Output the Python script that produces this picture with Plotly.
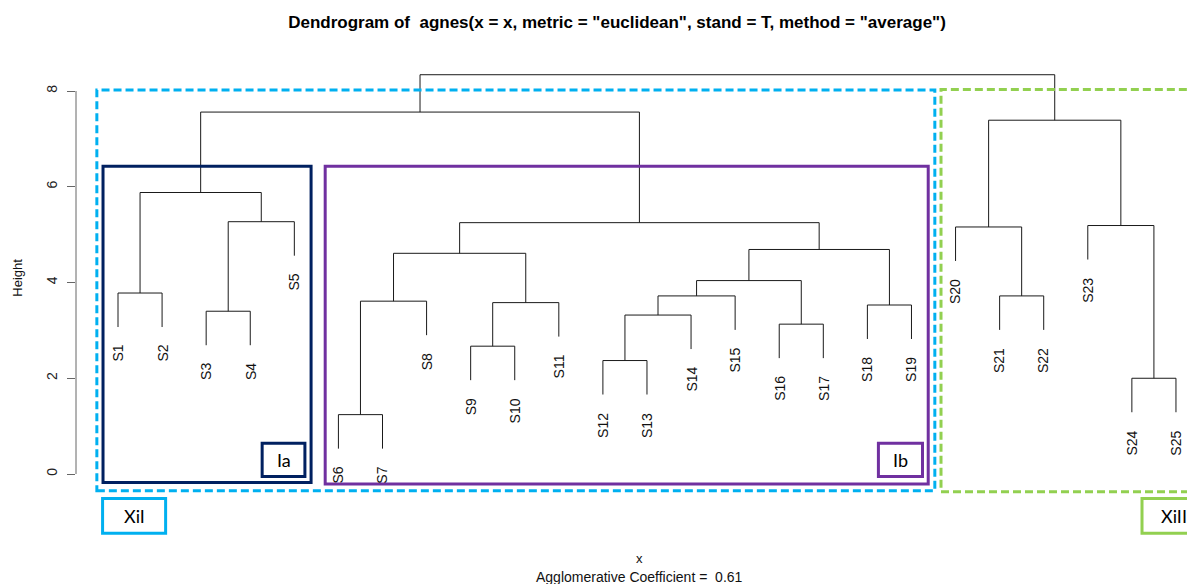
import plotly.graph_objects as go

# leaves in plotting order (left to right)
labels = ["S1", "S2", "S3", "S4", "S5", "S6", "S7", "S8", "S9", "S10",
          "S11", "S12", "S13", "S14", "S15", "S16", "S17", "S18", "S19", "S20",
          "S21", "S22", "S23", "S24", "S25"]

# agnes merge table (R convention: negative = leaf number, positive = earlier merge step)
merge_left = [-6, -24, -12, -9, -16, 3, -3, -18, 4, 1, 6, -21,
              -1, 11, 10, 14, -20, -23, 15, 7, 13, 17, 21, 23]
merge_right = [-7, -25, -13, -10, -17, -14, -4, -19, -11, -8, -15, -22,
               -2, 5, 9, 8, 12, 2, 16, -5, 20, 18, 19, 22]
heights = [1.24, 2.00, 2.37, 2.67, 3.13, 3.32, 3.40, 3.53, 3.58, 3.61, 3.72, 3.72,
           3.78, 4.04, 4.61, 4.69, 5.16, 5.19, 5.25, 5.27, 5.88, 7.39, 7.56, 8.34]

y_ticks = [0, 2, 4, 6, 8]

title_text = ('Dendrogram of  agnes(x = x, metric = "euclidean", '
              'stand = T, method = "average")')
coef_text = "Agglomerative Coefficient =  0.61"

# cluster boxes drawn over the tree: (x0, x1, y0, y1) in leaf / height units
groups = [
    dict(name="XiI", color="#00B0F0", dash="8px,4px", box=(0.52, 19.53, -0.35, 8.02),
         tag=(0.65, 2.08, -0.51, -1.24)),
    dict(name="XiII", color="#92D050", dash="8px,4px", box=(19.67, 26.2, -0.37, 8.03),
         tag=(24.23, 25.7, -0.51, -1.24)),
    dict(name="Ia", color="#002060", dash="solid", box=(0.66, 5.38, -0.18, 6.43),
         tag=(4.27, 5.24, 0.64, -0.05)),
    dict(name="Ib", color="#7030A0", dash="solid", box=(5.70, 19.38, -0.21, 6.43),
         tag=(18.25, 19.25, 0.64, -0.05)),
]

hang = 0.1 * (max(heights) - min(heights))
leaf_x = {i + 1: i + 1 for i in range(len(labels))}

# walk the merge table and build the tree segments
node_x = {}
xs, ys = [], []
leaf_bottom = {}
for k, (a, b, h) in enumerate(zip(merge_left, merge_right, heights), start=1):
    ends = []
    for c in (a, b):
        if c < 0:
            cx, cy = leaf_x[-c], h - hang
            leaf_bottom[-c] = cy
        else:
            cx, cy = node_x[c], heights[c - 1]
        ends.append((cx, cy))
    (xl, yl), (xr, yr) = ends
    xs += [xl, xl, xr, xr, None]
    ys += [yl, h, h, yr, None]
    node_x[k] = (xl + xr) / 2

fig = go.Figure()
fig.add_trace(go.Scatter(x=xs, y=ys, mode="lines", line=dict(color="#1a1a1a", width=1),
                         hoverinfo="skip", showlegend=False))

annotations = []
for i, lab in enumerate(labels, start=1):
    annotations.append(dict(x=leaf_x[i], y=leaf_bottom[i], text=lab, textangle=-90,
                            xanchor="center", yanchor="top", yshift=-16, showarrow=False,
                            font=dict(family="Liberation Sans", size=14, color="#111")))

shapes = [dict(type="line", xref="paper", yref="y", x0=0, x1=0, y0=0, y1=8,
               line=dict(color="#666", width=1))]
for g in groups:
    x0, x1, y0, y1 = g["box"]
    shapes.append(dict(type="rect", x0=x0, x1=x1, y0=y0, y1=y1, layer="above",
                       line=dict(color=g["color"], width=3, dash=g["dash"])))
    tx0, tx1, ty0, ty1 = g["tag"]
    shapes.append(dict(type="rect", x0=tx0, x1=tx1, y0=ty0, y1=ty1, layer="above",
                       fillcolor="white", line=dict(color=g["color"], width=3)))
    annotations.append(dict(x=(tx0 + tx1) / 2, y=(ty0 + ty1) / 2, text=g["name"],
                            showarrow=False, xanchor="center", yanchor="middle",
                            font=dict(family="Lato", size=18, color="black")))

annotations += [
    dict(xref="paper", yref="y", x=-0.0511, y=4.1, text="Height", textangle=-90,
         xanchor="center", yanchor="middle", showarrow=False,
         font=dict(family="Liberation Sans", size=13, color="#111")),
    dict(xref="paper", yref="paper", x=0.4967, y=-0.027, text="x", showarrow=False,
         xanchor="center", yanchor="middle",
         font=dict(family="Liberation Sans", size=13, color="#111")),
    dict(xref="paper", yref="paper", x=0.4967, y=-0.066, text=coef_text, showarrow=False,
         xanchor="center", yanchor="middle",
         font=dict(family="Liberation Sans", size=14, color="#111")),
]

# the page puts the figure 8px in from the window corner, so the margins are trimmed by 8px
# and the figure is made 8px bigger so the right/bottom edges still reach the window edge
fig.update_layout(
    width=1203, height=592,
    margin=dict(l=68, r=0, t=47, b=55),
    paper_bgcolor="white", plot_bgcolor="white",
    title=dict(text="<b>" + title_text + "</b>", x=609 / 1203, xanchor="center",
               y=1 - 14 / 592, yanchor="middle", yref="container",
               font=dict(family="Liberation Sans", size=17, color="black")),
    xaxis=dict(visible=False, range=[0.047, 25.795]),
    yaxis=dict(range=[-1.483, 8.752], tickvals=y_ticks, ticks="outside", ticklen=8,
               tickcolor="#666", tickangle=-90, showgrid=False, zeroline=False,
               showline=False, ticklabelstandoff=4,
               tickfont=dict(family="Liberation Sans", size=14, color="#222")),
    shapes=shapes,
    annotations=annotations,
)

fig.write_html("out.html")
